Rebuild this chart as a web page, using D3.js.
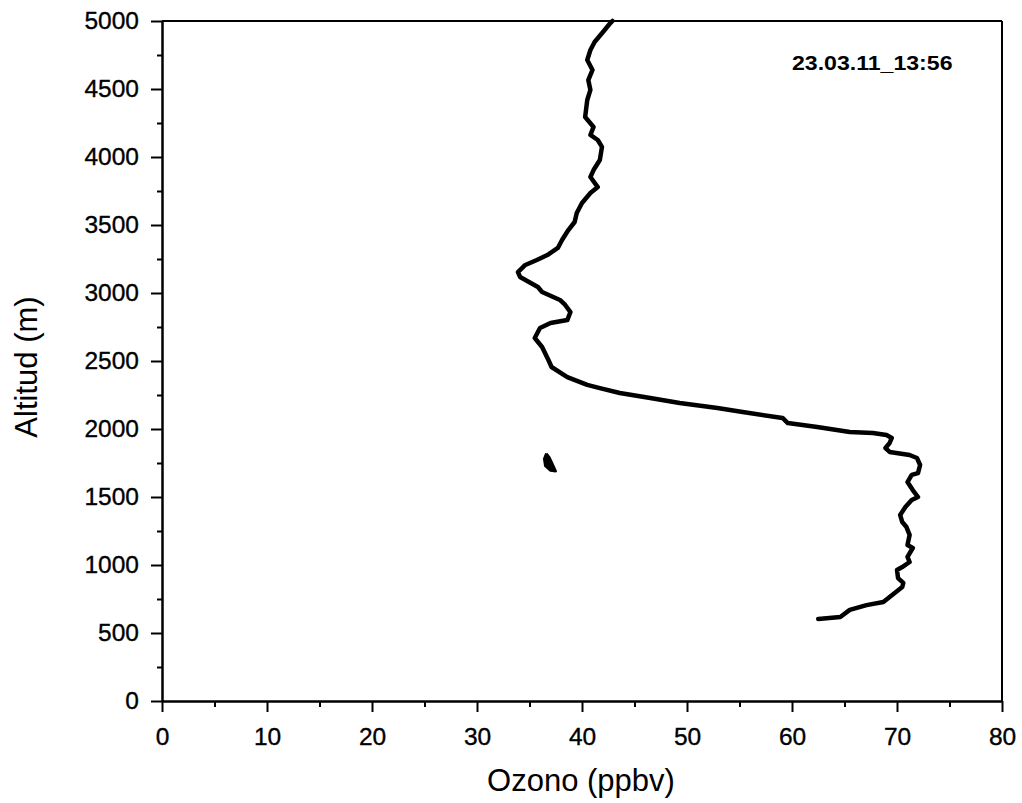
<!DOCTYPE html>
<html>
<head>
<meta charset="utf-8">
<script src="https://cdn.jsdelivr.net/npm/d3@7"></script>
<style>
  html, body { margin: 0; padding: 0; background: #fff; }
  svg { display: block; font-family: "Liberation Sans", Arial, sans-serif; }
</style>
</head>
<body>
<svg id="chart" width="1022" height="803"></svg>
<script>
// Ozone sounding profile: ozone mixing ratio (ppbv) against altitude (m)
const ozone = [
  62.5, 64.6, 65.5, 67.1, 68.7, 69.3, 70.5, 70.6, 70.1, 70.0,
  70.5, 71.2, 71.0, 71.5, 71.0, 71.2, 70.9, 70.5, 70.3, 70.8,
  71.4, 72.0, 71.5, 71.0, 71.4, 72.0, 72.2, 71.9, 71.2, 69.3,
  68.9, 69.3, 69.5, 69.0, 67.7, 65.5, 62.4, 59.6, 59.1, 55.3,
  52.9, 49.3, 46.5, 43.6, 41.7, 40.5, 38.6, 37.1, 36.8, 36.2,
  35.5, 36.0, 37.0, 38.6, 38.9, 38.4, 37.9, 36.2, 35.8, 34.1,
  33.9, 34.6, 35.7, 36.7, 37.7, 38.1, 38.7, 39.3, 39.5, 40.0,
  40.8, 41.5, 40.8, 41.1, 41.7, 41.9, 41.5, 40.8, 41.1, 40.3,
  40.5, 40.8, 40.6, 41.0, 40.5, 40.8, 41.2, 42.0, 42.7, 42.9
];
const altitude = [
  603, 618, 670, 705, 728, 765, 838, 868, 904, 963,
  985, 1022, 1059, 1125, 1147, 1221, 1279, 1316, 1368, 1426,
  1478, 1500, 1551, 1610, 1662, 1676, 1735, 1787, 1809, 1831,
  1860, 1897, 1934, 1956, 1971, 1978, 2015, 2044, 2081, 2125,
  2154, 2191, 2228, 2265, 2301, 2324, 2382, 2456, 2507, 2603,
  2669, 2743, 2779, 2801, 2860, 2912, 2949, 3007, 3044, 3118,
  3154, 3206, 3243, 3279, 3331, 3390, 3463, 3522, 3588, 3662,
  3735, 3779, 3853, 3904, 3978, 4074, 4125, 4162, 4221, 4294,
  4419, 4493, 4566, 4640, 4713, 4787, 4846, 4919, 4985, 5000
];

// Isolated short fragment of readings near 1750 m
const fragOzone    = [36.6, 36.9, 37.2, 37.5, 37.0, 36.5, 36.4, 36.6];
const fragAltitude = [1820, 1790, 1740, 1690, 1695, 1730, 1780, 1820];

const xMajorTicks = [0, 10, 20, 30, 40, 50, 60, 70, 80];
const xMinorTicks = [5, 15, 25, 35, 45, 55, 65, 75];
const yMajorTicks = [0, 500, 1000, 1500, 2000, 2500, 3000, 3500, 4000, 4500, 5000];
const yMinorTicks = [250, 750, 1250, 1750, 2250, 2750, 3250, 3750, 4250, 4750];

const stampText = "23.03.11_13:56";
const xTitle = "Ozono (ppbv)";
const yTitle = "Altitud (m)";

const svg = d3.select("#chart");
const plotLeft = 162, plotRight = 1002, plotTop = 21, plotBottom = 701;

const x = d3.scaleLinear().domain([0, 80]).range([plotLeft, plotRight]);
const y = d3.scaleLinear().domain([0, 5000]).range([plotBottom, plotTop]);

const tickFont = 24.5;

// frame lines on top and right
svg.append("line").attr("x1", plotLeft).attr("x2", plotRight).attr("y1", plotTop).attr("y2", plotTop)
  .attr("stroke", "#000").attr("stroke-width", 2);
svg.append("line").attr("x1", plotRight).attr("x2", plotRight).attr("y1", plotTop).attr("y2", plotBottom)
  .attr("stroke", "#000").attr("stroke-width", 2);

// bottom axis
const gx = svg.append("g").attr("transform", `translate(0,${plotBottom})`);
gx.call(d3.axisBottom(x).tickValues(xMajorTicks).tickFormat(d3.format("d"))
  .tickSize(11).tickSizeOuter(0));
gx.append("g").call(d3.axisBottom(x).tickValues(xMinorTicks).tickFormat("")
  .tickSize(6).tickSizeOuter(0));
gx.selectAll(".domain").attr("stroke-width", 2);
gx.selectAll(".tick line").attr("stroke-width", 2);
gx.selectAll(".tick text")
  .attr("font-size", tickFont)
  .attr("font-family", "Liberation Sans, Arial, sans-serif")
  .attr("fill", "#000")
  .attr("stroke", "#000").attr("stroke-width", 0.35)
  .attr("y", 44).attr("dy", 0);

// left axis
const gy = svg.append("g").attr("transform", `translate(${plotLeft},0)`);
gy.call(d3.axisLeft(y).tickValues(yMajorTicks).tickFormat(d3.format("d"))
  .tickSize(11).tickSizeOuter(0));
gy.append("g").call(d3.axisLeft(y).tickValues(yMinorTicks).tickFormat("")
  .tickSize(5).tickSizeOuter(0));
gy.selectAll(".domain").attr("stroke-width", 2);
gy.selectAll(".tick line").attr("stroke-width", 2);
gy.selectAll(".tick text")
  .attr("font-size", tickFont)
  .attr("font-family", "Liberation Sans, Arial, sans-serif")
  .attr("fill", "#000")
  .attr("stroke", "#000").attr("stroke-width", 0.35)
  .attr("x", -23).attr("dy", "0.3em");

// profile curve
const line = d3.line().x(d => x(d[0])).y(d => y(d[1]));
svg.append("path")
  .datum(ozone.map((v, i) => [v, altitude[i]]))
  .attr("d", line)
  .attr("fill", "none")
  .attr("stroke", "#000")
  .attr("stroke-width", 4.5)
  .attr("stroke-linejoin", "round")
  .attr("stroke-linecap", "round");

svg.append("path")
  .datum(fragOzone.map((v, i) => [v, fragAltitude[i]]))
  .attr("d", line)
  .attr("fill", "#000")
  .attr("stroke", "#000")
  .attr("stroke-width", 2.5)
  .attr("stroke-linejoin", "round");

// timestamp
svg.append("text")
  .attr("transform", "translate(792,70) scale(1.1,1)")
  .attr("font-size", 21)
  .attr("font-weight", "bold")
  .attr("fill", "#000")
  .text(stampText);

// axis titles
svg.append("text")
  .attr("x", 581).attr("y", 791)
  .attr("text-anchor", "middle")
  .attr("font-size", 31)
  .attr("fill", "#000")
  .text(xTitle);

svg.append("text")
  .attr("transform", "translate(37,367) rotate(-90)")
  .attr("text-anchor", "middle")
  .attr("font-size", 31)
  .attr("fill", "#000")
  .text(yTitle);
</script>
</body>
</html>
